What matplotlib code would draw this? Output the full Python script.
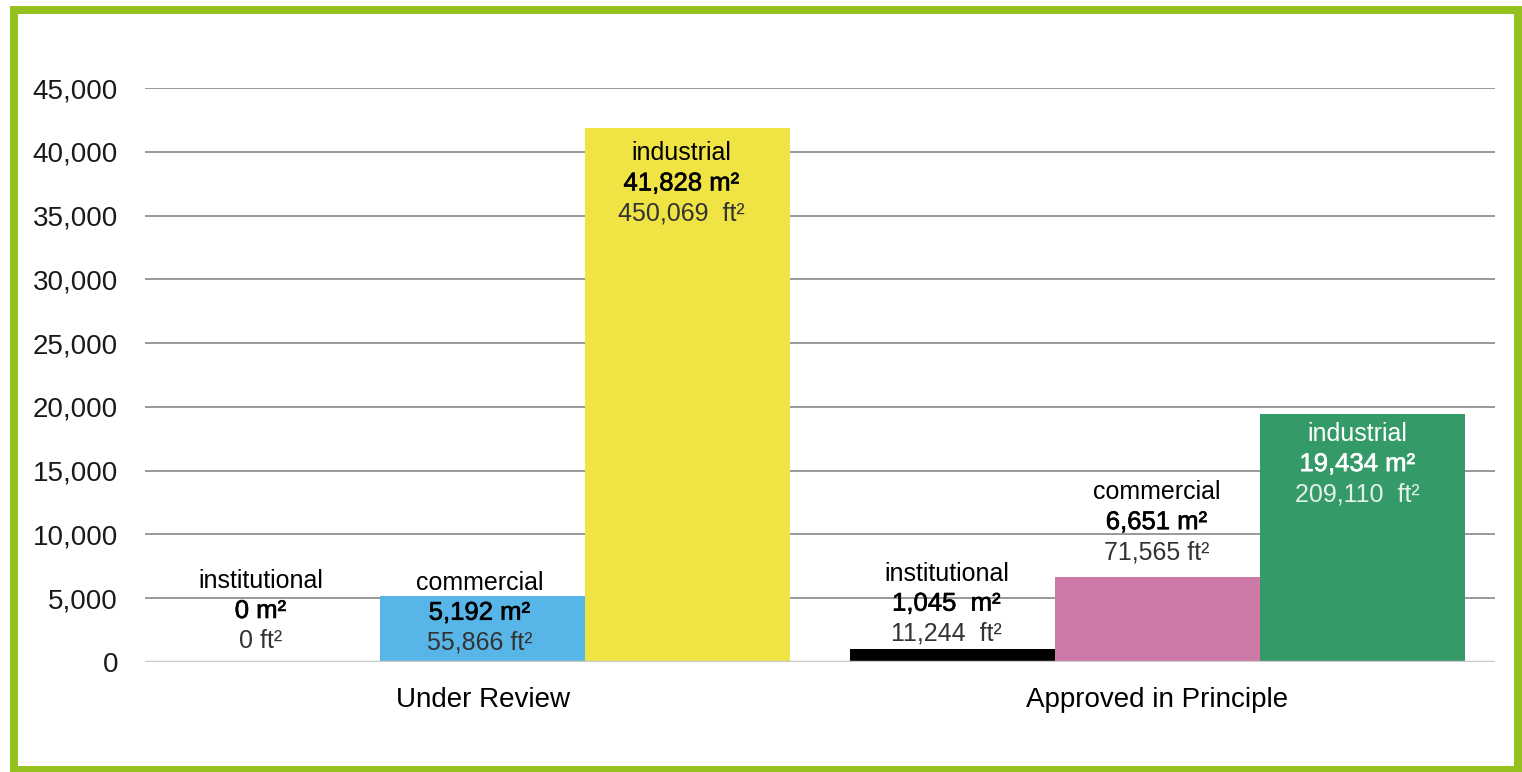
import matplotlib
matplotlib.use("Agg")
import matplotlib.pyplot as plt
import matplotlib.patheffects as pe
from matplotlib.patches import Rectangle
import numpy as np

plt.rcParams['font.family'] = ['Liberation Sans', 'DejaVu Sans']

# ---- data ----
groups = ["Under Review", "Approved in Principle"]
types = ["institutional", "commercial", "industrial"]
m2_values = [[0, 5192, 41828], [1045, 6651, 19434]]
ft2_values = [[0, 55866, 450069], [11244, 71565, 209110]]
m2_sep = [[" ", " ", " "], ["  ", " ", " "]]
ft2_sep = [[" ", " ", "  "], ["  ", " ", "  "]]
yticks = [0, 5000, 10000, 15000, 20000, 25000, 30000, 35000, 40000, 45000]

# ---- style ----
colors = [["#FFFFFF", "#57B5E7", "#EFE443"], ["#000000", "#CC79A7", "#349A68"]]
text_main = [["#000000", "#000000", "#000000"], ["#000000", "#000000", "#FFFFFF"]]
text_sub = [["#333333", "#333333", "#333333"], ["#333333", "#333333", "#E4F0EA"]]
# offset (px) of first label line above bar top, and horizontal shift (px)
label_dy = [[81, 13, -25], [75, 85, -20]]
label_dx = [[-17, -3, -6], [-6, -1, -5]]
line_gap = 30  # px

W, H = 1522, 772
dpi = 100
px2pt = 72 / dpi
fig = plt.figure(figsize=(W / dpi, H / dpi), dpi=dpi)
ax = fig.add_axes([145 / W, (H - 662) / H, (1495 - 145) / W, (662 - 88) / H])

bar_w = 205 / 675
x = np.arange(len(groups))
for gi in range(len(groups)):
    for ti in range(len(types)):
        xc = x[gi] + (ti - 1) * bar_w
        ax.bar(xc, m2_values[gi][ti], width=bar_w, color=colors[gi][ti],
               zorder=2, linewidth=0)

ax.set_xlim(-0.5, 1.5)
ax.set_ylim(0, 45000)
ax.set_yticks(yticks)
ax.set_yticklabels([f"{v:,}" for v in yticks], fontsize=20, color="#1a1a1a")
ax.set_xticks(x)
ax.set_xticklabels(groups, fontsize=20, color="#000000")
ax.tick_params(axis="y", length=0, pad=27 * px2pt)
ax.tick_params(axis="x", length=0, pad=25 * px2pt)
for s in ax.spines.values():
    s.set_visible(False)
ax.grid(axis="y", color="#999999", linewidth=1.4, zorder=0)
ax.set_axisbelow(True)
ax.axhline(0, color="#C8C8C8", linewidth=2.5, zorder=3)

# labels
for gi in range(len(groups)):
    for ti in range(len(types)):
        xc = x[gi] + (ti - 1) * bar_w
        v = m2_values[gi][ti]
        lines = [
            (types[ti], False, text_main[gi][ti]),
            (f"{v:,}{m2_sep[gi][ti]}m²", True, text_main[gi][ti]),
            (f"{ft2_values[gi][ti]:,}{ft2_sep[gi][ti]}ft²", False, text_sub[gi][ti]),
        ]
        for li, (txt, heavy, col) in enumerate(lines):
            dy = (label_dy[gi][ti] - li * line_gap) * px2pt
            t = ax.annotate(txt, xy=(xc, v), xytext=(label_dx[gi][ti] * px2pt, dy),
                            textcoords="offset points", ha="center", va="center",
                            fontsize=18.5 if heavy else 18, color=col, zorder=5)
            if heavy:
                t.set_path_effects([pe.withStroke(linewidth=0.45, foreground=col)])

# green frame
lw_px = 8
fig.patches.append(Rectangle((13.5 / W, (H - 769.5) / H), (1518 - 13.5) / W,
                             (769.5 - 10) / H, transform=fig.transFigure,
                             fill=False, edgecolor="#95C11F",
                             linewidth=lw_px * px2pt, zorder=10))

fig.savefig("out.png", dpi=dpi, facecolor="white")
